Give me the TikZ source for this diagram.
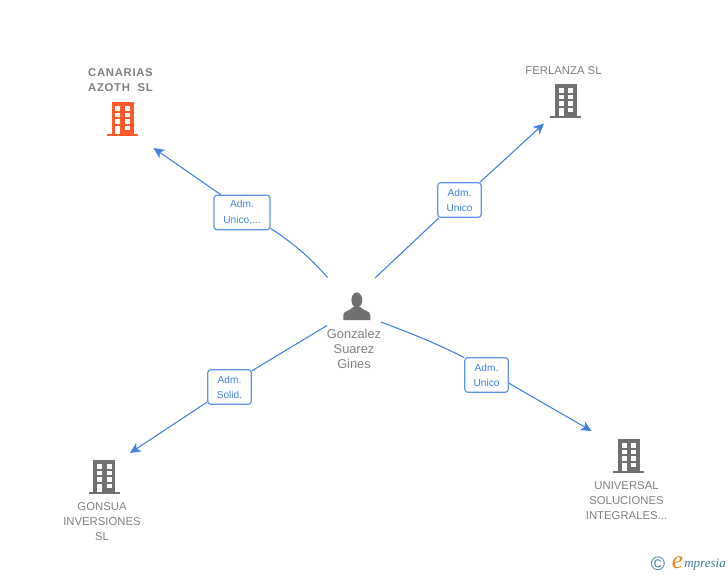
\documentclass[tikz,border=0pt]{standalone}
\usepackage{fontspec}
\setmainfont{Liberation Sans}
\newfontfamily\logofont{Liberation Serif}
\usetikzlibrary{arrows.meta}
\definecolor{linkblue}{RGB}{62,130,226}
\definecolor{boxblue}{RGB}{92,150,230}
\definecolor{labelgray}{RGB}{128,128,128}
\definecolor{bldggray}{RGB}{112,112,112}
\definecolor{bldgred}{RGB}{255,90,40}
\definecolor{logoteal}{RGB}{60,125,150}
\definecolor{logoorange}{RGB}{240,130,20}
\tikzset{
  link/.style={color=linkblue,line width=0.8pt},
  linkarrow/.style={link,-{Stealth[length=8pt,width=7.5pt,inset=2.2pt]}},
  rolebox/.style={draw=boxblue,line width=0.9pt,rounded corners=2.2pt,fill=white,
    minimum width=#1,inner sep=0pt,align=center,font=\fontsize{7.6pt}{11.3pt}\selectfont,
    text=linkblue,minimum height=26pt},
  rolebox/.default=32.5pt,
  firmlabel/.style={align=center,inner sep=0pt,text=labelgray,font=\fontsize{8.5pt}{11.2pt}\selectfont},
  building/.pic={
    \fill (-11,0) rectangle (11,-32);
    \fill (-15.5,0) rectangle (15.5,2);
    \foreach \wx in {-7.2,2.6}
      \foreach \wy in {-27.8,-21.2,-14.7}
        \fill[white] (\wx,\wy) rectangle +(5,4.3);
    \fill[white] (-7.2,-8.2) rectangle (-2.2,0);
    \fill[white] (2.6,-8.2) rectangle (7.6,-3.9);
  },
  personicon/.pic={
    \fill (0,-20) ellipse (5.4 and 7.6);
    \fill (-13.5,0) -- (-13.5,-5) .. controls (-13.5,-9) and (-7,-9) .. (-3.5,-13)
      -- (3.5,-13) .. controls (7,-9) and (13.5,-9) .. (13.5,-5) -- (13.5,0) -- cycle;
  }
}
\begin{document}
\begin{tikzpicture}[x=0.75pt,y=0.75pt,yscale=-1]
\useasboundingbox (0,0) rectangle (728,575);

%Buildings
\path (122.5,134) pic[fill=bldgred,transform shape] {building};
\path (565.7,116) pic[fill=bldggray,transform shape] {building};
\path (104,492) pic[fill=bldggray,transform shape] {building};
\path (628.7,471) pic[fill=bldggray,transform shape] {building};
%Person
\path (356.8,320) pic[fill=bldggray,transform shape] {personicon};

% Text Node
\node (canarias) [firmlabel,font=\bfseries\fontsize{8.5pt}{11.2pt}\selectfont\addfontfeature{LetterSpace=6}] at (120.5,80.5) {CANARIAS\\AZOTH\ \ SL};
\node (ferlanza) [firmlabel] at (563.5,71) {FERLANZA SL};
\node (gonsua) [firmlabel] at (102,522) {GONSUA\\INVERSIONES\\SL};
\node (universal) [firmlabel] at (626.5,500.5) {UNIVERSAL\\SOLUCIONES\\INTEGRALES...};
\node (gonzalez) [firmlabel,font=\fontsize{9.6pt}{11.2pt}\selectfont] at (354,349) {Gonzalez\\Suarez\\Gines};

%Role boxes
\node (boxcanarias) [rolebox=42pt] at (242,212.5) {Adm.\\Unico,...};
\node (boxferlanza) [rolebox] at (459.5,200) {Adm.\\Unico};
\node (boxgonsua) [rolebox] at (229.5,387) {Adm.\\Solid.};
\node (boxuniversal) [rolebox] at (486.5,375) {Adm.\\Unico};

%Free ends
\coordinate (startcanarias) at (327.5,277.5);
\coordinate (startferlanza) at (375,278);
\coordinate (startgonsua) at (327,325.5);
\coordinate (startuniversal) at (381,322);
\coordinate (tipcanarias) at (153.5,148);
\coordinate (tipferlanza) at (544,123.5);
\coordinate (tipgonsua) at (130,453);
\coordinate (tipuniversal) at (591.5,431);

%Connectors
\draw [link] (startcanarias) .. controls (309,256) and (290,241) .. (boxcanarias.-29);
\draw [linkarrow] (boxcanarias.140) -- (tipcanarias);
\draw [link] (startferlanza) -- (boxferlanza.221);
\draw [linkarrow] (boxferlanza.41) -- (tipferlanza);
\draw [link] (startgonsua) -- (boxgonsua.36);
\draw [linkarrow] (boxgonsua.214) -- (tipgonsua);
\draw [link] (startuniversal) .. controls (410,333) and (438,344) .. (boxuniversal.142);
\draw [linkarrow] (boxuniversal.-20) -- (tipuniversal);

%Logo
\node (copyright) [inner sep=0pt,text=logoteal,font=\fontsize{14.5pt}{15pt}\selectfont] at (658,564) {©};
\node (logoe) [inner sep=0pt,text=logoorange,font=\logofont\itshape\fontsize{19pt}{20pt}\selectfont] at (677.5,563) {e};
\node (logorest) [inner sep=0pt,anchor=west,text=logoteal,font=\logofont\itshape\fontsize{9.8pt}{10pt}\selectfont] at (684,565) {mpresia};
\end{tikzpicture}
\end{document}
